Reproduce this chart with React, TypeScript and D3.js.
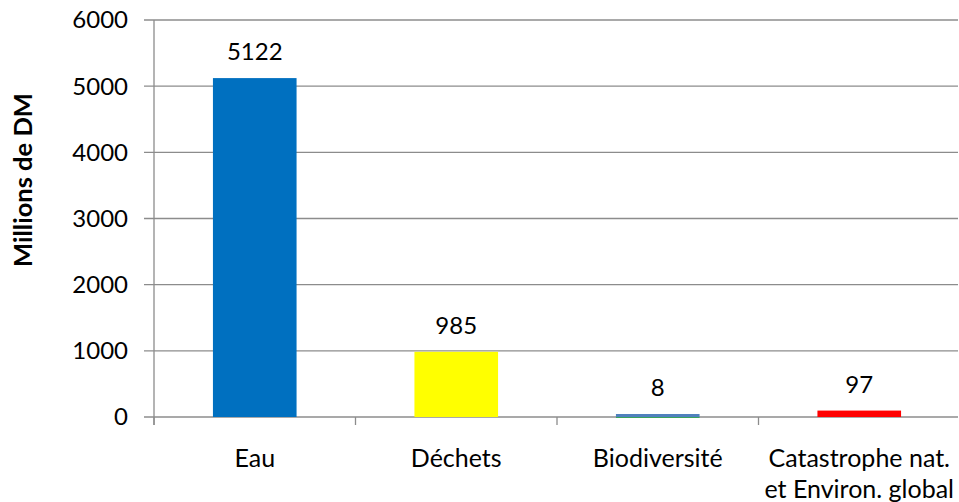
import React from "react";
import * as d3 from "d3";

const categories: string[][] = [["Eau"], ["Déchets"], ["Biodiversité"], ["Catastrophe nat.", "et Environ. global"]];
const values: number[] = [5122, 985, 8, 97];
const colors: string[] = ["#0070c0", "#ffff00", "#4f81bd", "#ff0000"];
const yTicks: number[] = [0, 1000, 2000, 3000, 4000, 5000, 6000];
const yTitle = "Millions de DM";

export default function App() {
  const W = 959, H = 502;
  const left = 154, right = 960, top = 20, bottom = 417;
  const x = d3.scaleBand<number>().domain(d3.range(values.length)).range([left, right]).paddingInner(0.585).paddingOuter(0.2925);
  const y = d3.scaleLinear().domain([0, 6000]).range([bottom, top]);
  const step = (right - left) / values.length;
  const font = "Lato, 'Open Sans', sans-serif";
  const grid = "#8c8c8c";
  const fs = 24;
  return (
    <svg width={W} height={H} style={{ position: "absolute", left: 0, top: 0 }} fontFamily={font}>
      {yTicks.map((t) => (
        <g key={t}>
          <line x1={144} x2={958} y1={y(t)} y2={y(t)} stroke={grid} strokeWidth={1.3} />
          <text x={128} y={y(t)} dy="0.35em" textAnchor="end" fontSize={fs} fill="#000">{t}</text>
        </g>
      ))}
      <line x1={left} x2={left} y1={top} y2={bottom + 8} stroke={grid} strokeWidth={1.3} />
      {d3.range(values.length + 1).map((i) => (
        <line key={i} x1={left + i * step} x2={left + i * step} y1={bottom} y2={bottom + 8} stroke={grid} strokeWidth={1.3} />
      ))}
      {values.map((v, i) => {
        const h = Math.max(bottom - y(v), 3);
        return (
          <g key={i}>
            <rect x={x(i)} y={bottom - h} width={x.bandwidth()} height={h} fill={colors[i]} />
            {i === 2 && <line x1={x(i)} x2={x(i)! + x.bandwidth()} y1={bottom + 0.5} y2={bottom + 0.5} stroke="#3aa35a" strokeWidth={1} />}
            <text x={x(i)! + x.bandwidth() / 2} y={Math.min(y(v), bottom - 3) - 26} dy="0.35em" textAnchor="middle" fontSize={fs} fill="#000">{v}</text>
            {categories[i].map((line, j) => (
              <text key={j} x={x(i)! + x.bandwidth() / 2} y={458 + j * 31} dy="0.35em" textAnchor="middle" fontSize={25} fill="#000">{line}</text>
            ))}
          </g>
        );
      })}
      <text transform={`translate(23,180) rotate(-90)`} textAnchor="middle" dy="0.35em" fontSize={25.5} fontWeight="bold" fill="#000">{yTitle}</text>
    </svg>
  );
}
